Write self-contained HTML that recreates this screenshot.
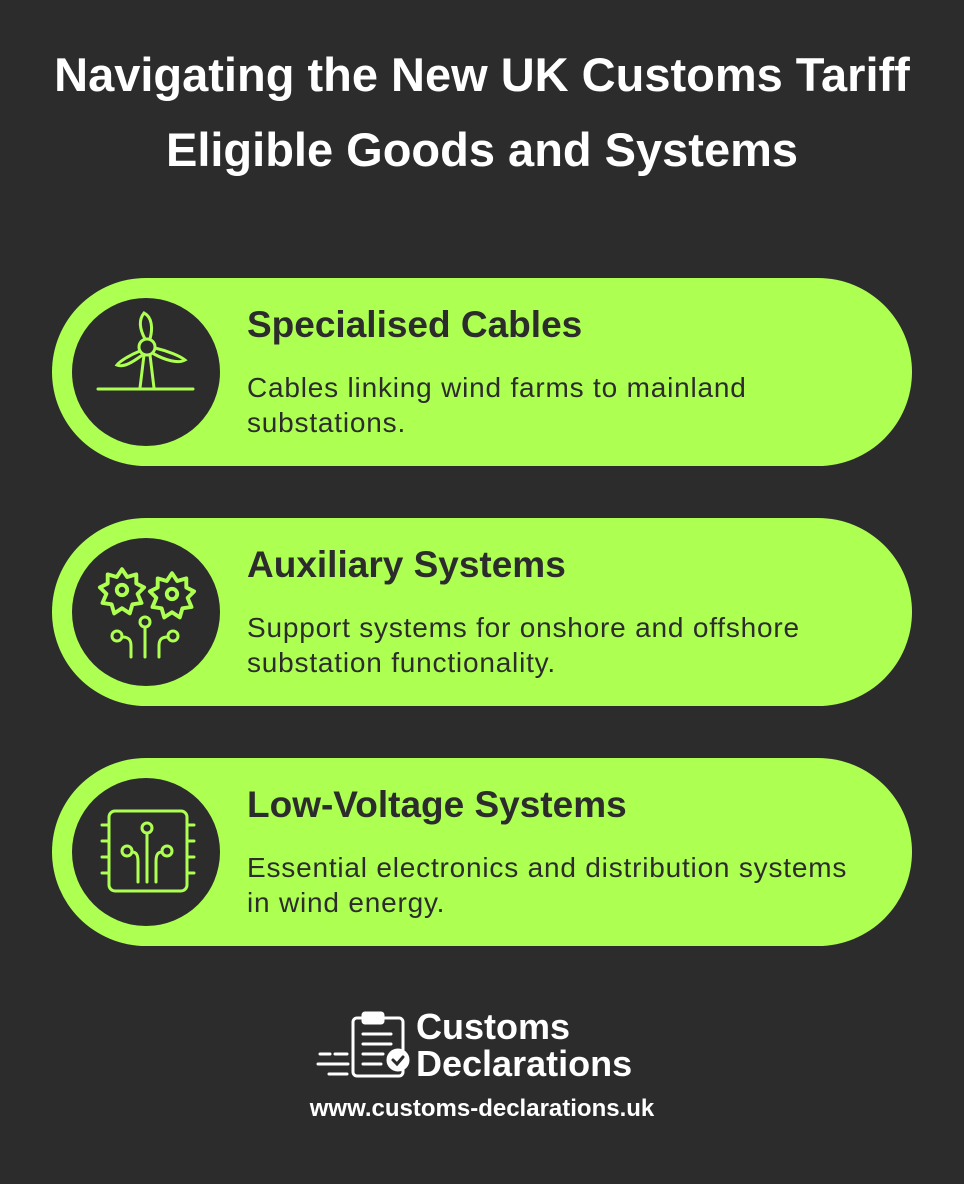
<!DOCTYPE html>
<html><head><meta charset="utf-8"><style>
body{margin:0;width:964px;height:1184px;background:#2c2c2c;font-family:"Liberation Sans",sans-serif;position:relative;overflow:hidden}
.t{position:absolute;left:0;width:964px;text-align:center;color:#fff;font-weight:bold;font-size:47px}
.pill{position:absolute;left:52px;width:860px;height:188px;border-radius:94px;background:#adff52}
.circ{position:absolute;left:20px;top:20px;width:148px;height:148px;border-radius:50%;background:#2c2c2c}
.circ svg{position:absolute;left:0;top:0}
.h{position:absolute;left:195px;top:26px;font-size:37px;font-weight:bold;color:#2c2c2c}
.p{position:absolute;left:195px;top:92px;font-size:28px;color:#2c2c2c;line-height:35px;letter-spacing:0.8px}
</style></head><body>
<div class="t" style="top:47px">Navigating the New UK Customs Tariff</div>
<div class="t" style="top:122px">Eligible Goods and Systems</div>

<div class="pill" style="top:278px"><div class="circ">
<svg width="148" height="148" fill="none" stroke="#adff52" stroke-width="3" stroke-linecap="round">
<circle cx="75" cy="49" r="8"/><path d="M73 41 C66 28 68 20 72 15 C80 19 81 30 78 41"/>
<path d="M68 53 C58 57 48 63 45 67 C52 70 62 63 69 58"/><path d="M83 50 C96 53 108 58 113 62 C106 66 93 62 82 56"/>
<path d="M72 57 L68 90 M78 57 L82 90 M26 91 L121 91"/></svg></div>
<div class="h">Specialised Cables</div><div class="p">Cables linking wind farms to mainland<br>substations.</div></div>

<div class="pill" style="top:518px"><div class="circ">
<svg width="148" height="148" fill="none" stroke="#adff52" stroke-width="3" stroke-linecap="round" stroke-linejoin="round">
<g transform="translate(50 52) scale(1.3) translate(-50 -52)"><circle cx="50" cy="52" r="4"/>
<path d="M50 36 l4 6 7-2 0 7 6 3-5 5 3 7-7 1-2 7-6-4-6 4-2-7-7-1 3-7-5-5 6-3 0-7 7 2z"/></g>
<g transform="translate(100 56) scale(1.3) translate(-100 -56)"><circle cx="100" cy="56" r="4"/>
<path d="M100 40 l4 6 7-2 0 7 6 3-5 5 3 7-7 1-2 7-6-4-6 4-2-7-7-1 3-7-5-5 6-3 0-7 7 2z"/></g>
<circle cx="73" cy="84" r="5"/><path d="M73 89 V119"/>
<circle cx="45" cy="98" r="5"/><path d="M50 99 C57 99 59 102 59 108 V119"/>
<circle cx="101" cy="98" r="5"/><path d="M96 99 C89 99 87 102 87 108 V119"/></svg></div>
<div class="h">Auxiliary Systems</div><div class="p">Support systems for onshore and offshore<br>substation functionality.</div></div>

<div class="pill" style="top:758px"><div class="circ">
<svg width="148" height="148" fill="none" stroke="#adff52" stroke-width="3" stroke-linecap="round">
<rect x="37" y="33" width="78" height="80" rx="6"/>
<path d="M30 47h7M30 63h7M30 79h7M30 95h7M115 47h7M115 63h7M115 79h7M115 95h7"/>
<circle cx="75" cy="50" r="5"/><path d="M75 55V104"/>
<circle cx="55" cy="73" r="5"/><path d="M60 74C65 74 66 78 66 84V104"/>
<circle cx="95" cy="73" r="5"/><path d="M90 74C85 74 84 78 84 84V104"/></svg></div>
<div class="h">Low-Voltage Systems</div><div class="p">Essential electronics and distribution systems<br>in wind energy.</div></div>

<svg style="position:absolute;left:315px;top:1010px" width="100" height="70" fill="none" stroke="#fff" stroke-width="3" stroke-linecap="round">
<rect x="38" y="8" width="50" height="58" rx="4"/><rect x="48" y="3" width="20" height="10" rx="2" fill="#fff"/>
<path d="M48 24h28M48 34h28M48 44h20M48 54h18M5 44h10M20 44h12M3 54h30M14 64h18"/>
<circle cx="83" cy="50" r="10" fill="#fff"/><path d="M78 50l4 4 6-7" stroke="#2c2c2c"/></svg>
<div style="position:absolute;left:416px;top:1008px;color:#fff;font-weight:bold;font-size:36px;line-height:37px">Customs<br>Declarations</div>
<div style="position:absolute;left:0;width:964px;text-align:center;top:1095px;color:#fff;font-weight:bold;font-size:24px">www.customs-declarations.uk</div>
</body></html>
